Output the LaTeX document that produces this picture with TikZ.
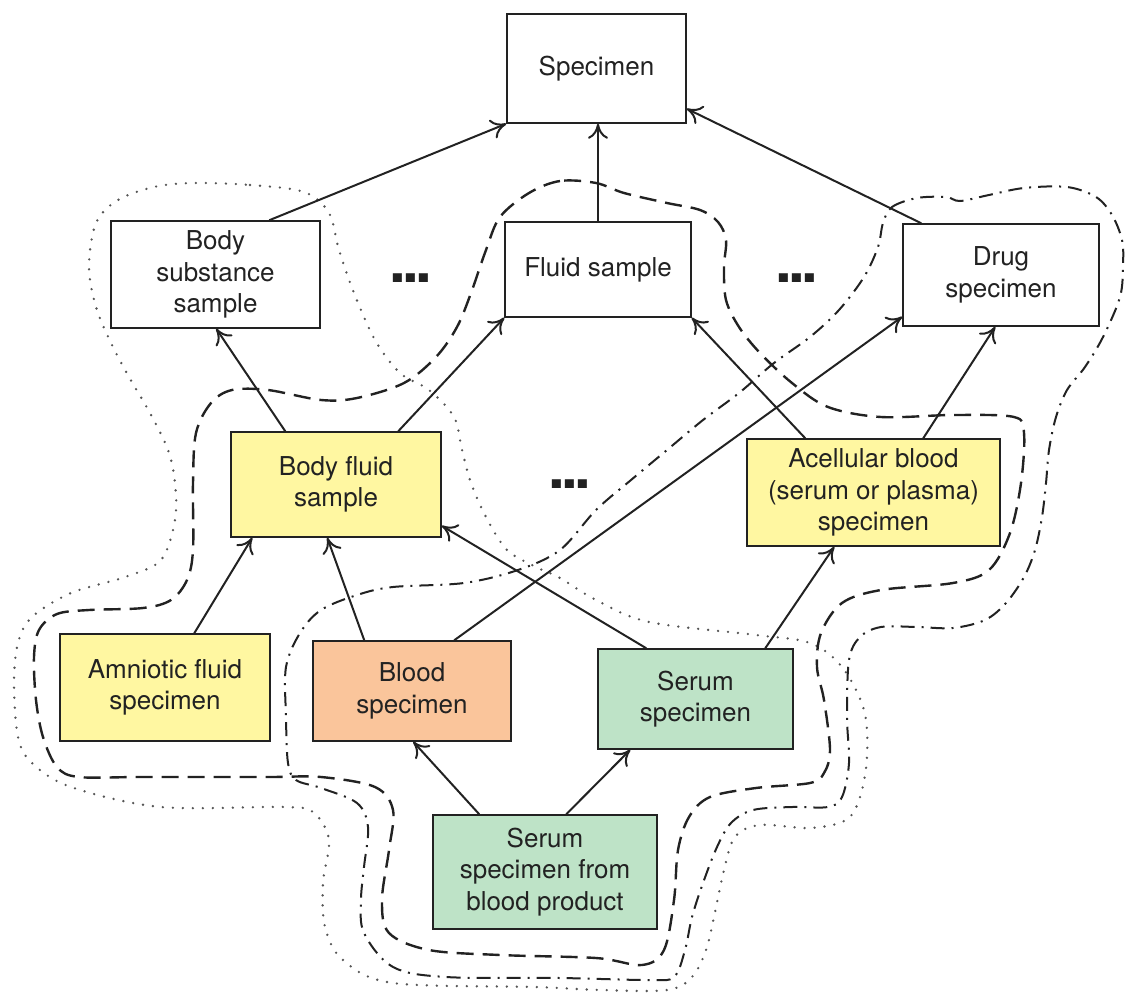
\documentclass[tikz,border=0pt]{standalone}
\usepackage{fontspec}
\setmainfont{TeX Gyre Heros}
\usetikzlibrary{arrows.meta,calc}
\definecolor{boxyellow}{HTML}{FFF7A1}
\definecolor{boxorange}{HTML}{FAC59B}
\definecolor{boxgreen}{HTML}{BEE3C7}
\definecolor{ink}{HTML}{222222}
\definecolor{dotgray}{HTML}{555555}
\tikzset{
  box/.style={draw=ink, line width=0.75pt, rectangle, align=center, inner sep=0pt,
    font=\fontsize{13pt}{15.8pt}\selectfont, text=ink},
  link/.style={draw=ink, line width=1pt,
    -{Computer Modern Rightarrow[length=7.5pt,width=10pt]}},
  dotline/.style={draw=dotgray, line width=1.3pt, line cap=round, dash pattern=on 0pt off 5pt},
  dashline/.style={draw=ink, line width=1.2pt, dash pattern=on 8.5pt off 4.5pt},
  dashdotline/.style={draw=ink, line width=1pt, dash pattern=on 7pt off 3.5pt on 1pt off 3.5pt},
  etc/.style={anchor=base, inner sep=0pt, text=ink, font=\fontsize{30pt}{30pt}\bfseries\selectfont}
}
\newcommand{\etcdots}{.\kern-1.9pt.\kern-1.9pt.}
\begin{document}
\begin{tikzpicture}[x=0.5pt,y=-0.5pt]
\useasboundingbox (0,0) rectangle (1128,994);

% grouping outlines
\draw[dotline] plot[smooth cycle, tension=0.55] coordinates {
  (193,183) (250,185) (304,192) (329,213) (339,250) (354,293) (375,340) (400,373)
  (429,390) (454,417) (462,450) (471,483) (486,517) (507,550) (536,567) (560,578)
  (596,600) (649,622) (756,635) (810,643) (842,667) (864,710) (867,757) (860,797)
  (846,820) (810,828) (760,825) (735,837) (724,870) (714,917) (706,950) (692,977)
  (667,990) (600,990) (536,987) (393,983) (343,960) (325,927) (323,883) (329,840)
  (314,813) (286,807) (161,807) (71,787) (32,763) (18,737) (14,683) (18,643)
  (32,617) (71,593) (125,577) (161,560) (175,520) (175,483) (168,450) (150,413)
  (129,377) (111,343) (96,307) (89,267) (96,223) (118,200) (154,187)};

\draw[dashline] plot[smooth cycle, tension=0.55] coordinates {
  (596,183) (560,181) (529,193) (500,217) (486,250) (471,293) (457,327) (436,357)
  (404,383) (357,398) (321,400) (268,390) (232,390) (211,403) (196,433) (193,483)
  (193,550) (187,580) (171,600) (143,608) (89,610) (57,614) (39,630) (34,657)
  (36,700) (43,737) (57,767) (79,777) (143,777) (268,777) (321,777) (375,787)
  (393,810) (389,850) (382,900) (389,933) (429,950) (500,955) (596,958) (642,965)
  (664,950) (674,900) (678,850) (689,817) (710,797) (756,788) (810,783) (824,773)
  (830,750) (824,700) (817,667) (821,633) (842,603) (881,590) (953,583) (989,570)
  (1010,533) (1021,483) (1024,433) (1014,417) (953,415) (881,417) (828,407) (792,383)
  (760,353) (739,327) (726,300) (724,267) (726,240) (718,222) (700,210) (667,203)
  (624,193)};

\draw[dashdotline] plot[smooth cycle, tension=0.55] coordinates {
  (883,223) (892,207) (917,198) (946,197) (960,201) (989,195) (1024,188) (1067,187)
  (1096,197) (1112,215) (1122,240) (1123,265) (1120,297) (1103,337) (1085,367)
  (1067,390) (1056,417) (1049,450) (1046,483) (1042,517) (1035,550) (1024,577)
  (1006,603) (985,620) (953,628) (917,627) (881,627) (860,637) (849,660) (847,717)
  (849,763) (842,797) (828,807) (792,807) (753,810) (731,823) (717,847) (703,883)
  (692,917) (685,950) (674,977) (649,980) (560,978) (446,977) (393,967) (364,933)
  (361,900) (364,867) (368,827) (357,803) (321,788) (296,780) (288,763) (286,717)
  (286,667) (300,633) (321,610) (357,595) (393,587) (464,583) (518,570) (560,550)
  (596,510) (631,480) (667,450) (703,420) (739,393) (774,363) (810,337) (839,310)
  (864,277) (878,247)};

% concepts
\node[box, minimum width=89.5pt, minimum height=54.5pt] (spec) at (596.5,68.5) {Specimen};
\node[box, minimum width=104.5pt, minimum height=53.5pt] (bss) at (215.5,274.5) {Body\\substance\\sample};
\node[box, minimum width=93pt, minimum height=47.5pt] (fls) at (598,269.5) {Fluid sample};
\node[box, minimum width=98pt, minimum height=51pt] (drug) at (1001,275) {Drug\\specimen};
\node[box, fill=boxyellow, minimum width=105pt, minimum height=52.5pt] (bfs) at (336,484.5) {Body fluid\\sample};
\node[box, fill=boxyellow, minimum width=126.5pt, minimum height=53.5pt] (acb) at (873.5,492.5) {Acellular blood\\(serum or plasma)\\specimen};
\node[box, fill=boxyellow, minimum width=105pt, minimum height=53.5pt] (amn) at (165,687.5) {Amniotic fluid\\specimen};
\node[box, fill=boxorange, minimum width=99pt, minimum height=50pt] (blood) at (412,691) {Blood\\specimen};
\node[box, fill=boxgreen, minimum width=97.5pt, minimum height=50pt] (serum) at (695.5,699) {Serum\\specimen};
\node[box, fill=boxgreen, minimum width=112pt, minimum height=57pt] (ssbp) at (545,872) {Serum\\specimen from\\blood product};

% elided siblings
\node[etc] (etc1) at (411,283) {\etcdots};
\node[etc] (etc2) at (797,283) {\etcdots};
\node[etc] (etc3) at (570,488) {\etcdots};

% is-a links
\draw[link] ($(bss.north west)+(159,0)$) -- (spec.south west);
\draw[link] (fls.north) -- (fls.north |- spec.south);
\draw[link] ($(drug.north west)+(19,0)$) -- ($(spec.south east)+(0,-15)$);
\draw[link] ($(bfs.north west)+(55,0)$) -- ($(bss.south west)+(106,0)$);
\draw[link] ($(bfs.north west)+(168,0)$) -- (fls.south west);
\draw[link] ($(acb.north west)+(59,0)$) -- (fls.south east);
\draw[link] ($(acb.north west)+(177,0)$) -- ($(drug.south west)+(93,0)$);
\draw[link] ($(blood.north west)+(142,0)$) -- ($(drug.south west)+(0,-10)$);
\draw[link] ($(blood.north west)+(52,0)$) -- ($(bfs.south west)+(97,0)$);
\draw[link] ($(amn.north west)+(135,0)$) -- ($(bfs.south west)+(22,0)$);
\draw[link] ($(serum.north west)+(49,0)$) -- ($(bfs.south east)+(0,-12)$);
\draw[link] ($(serum.north west)+(168,0)$) -- ($(acb.south west)+(88,0)$);
\draw[link] ($(ssbp.north west)+(47,0)$) -- ($(blood.south west)+(101,0)$);
\draw[link] ($(ssbp.north west)+(134,0)$) -- ($(serum.south west)+(33,0)$);
\end{tikzpicture}
\end{document}
